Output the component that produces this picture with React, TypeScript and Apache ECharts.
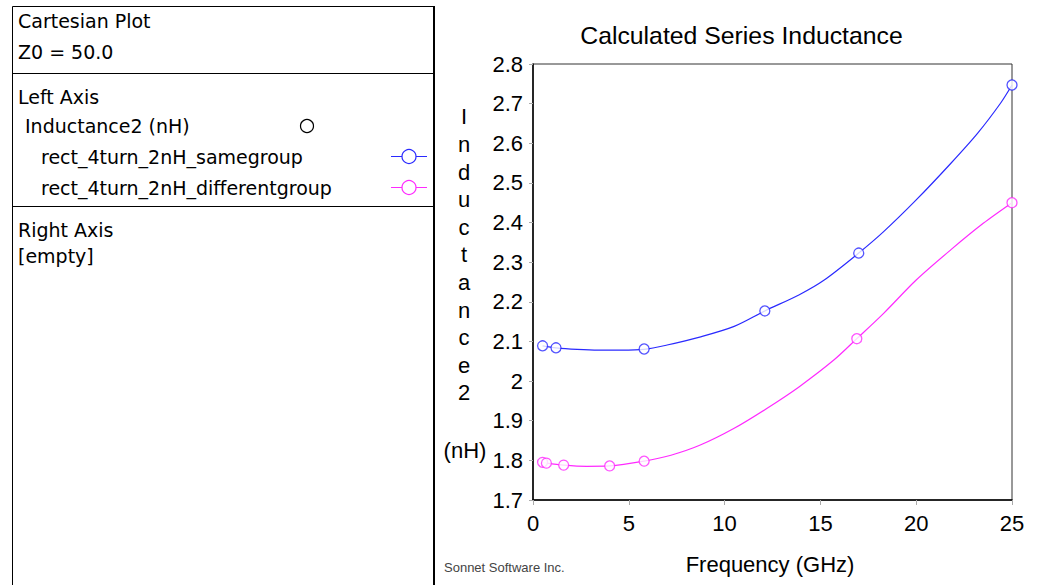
import React, { useEffect, useRef } from "react";
import * as echarts from "echarts";

// ---- data ----
const xTicks = [0, 5, 10, 15, 20, 25];
const yTicks = [1.7, 1.8, 1.9, 2.0, 2.1, 2.2, 2.3, 2.4, 2.5, 2.6, 2.7, 2.8];

const seriesNames = ["rect_4turn_2nH_samegroup", "rect_4turn_2nH_differentgroup"];

// samegroup (blue) curve
const blueCurveFreq = [0.5, 1.2, 2.3, 3.4, 4.6, 5.8, 7.0, 8.7, 10.5, 12.1, 13.9, 15.2, 17.0, 18.3, 20.0, 21.8, 23.2, 24.4, 25.0];
const blueCurveVal = [2.089, 2.084, 2.080, 2.078, 2.078, 2.080, 2.091, 2.111, 2.138, 2.177, 2.218, 2.255, 2.323, 2.377, 2.457, 2.549, 2.625, 2.701, 2.747];
// samegroup (blue) analysed points
const blueMarkFreq = [0.5, 1.2, 5.8, 12.1, 17.0, 25.0];
const blueMarkVal = [2.089, 2.084, 2.081, 2.177, 2.323, 2.747];

// differentgroup (magenta) curve
const pinkCurveFreq = [0.5, 0.7, 1.6, 2.8, 4.0, 5.8, 7.2, 8.7, 10.5, 12.2, 13.9, 15.7, 16.9, 18.3, 20.0, 21.8, 23.5, 25.0];
const pinkCurveVal = [1.795, 1.793, 1.788, 1.785, 1.786, 1.798, 1.813, 1.838, 1.881, 1.931, 1.986, 2.053, 2.107, 2.171, 2.255, 2.331, 2.398, 2.450];
// differentgroup (magenta) analysed points
const pinkMarkFreq = [0.5, 0.7, 1.6, 4.0, 5.8, 16.9, 25.0];
const pinkMarkVal = [1.795, 1.793, 1.788, 1.786, 1.798, 2.107, 2.450];

const BLUE = "#2a2aff";
const PINK = "#ff2aff";
const PANEL_FONT = "DejaVu Sans";
const AX_FONT = "Liberation Sans";

const zip = (a: number[], b: number[]) => a.map((v, i) => [v, b[i]]);

export default function App() {
  const ref = useRef<HTMLDivElement>(null);

  useEffect(() => {
    if (!ref.current) return;
    const chart = echarts.init(ref.current, undefined, { renderer: "svg" });

    const panelText = (text: string, x: number, y: number, extra: any = {}) => ({
      type: "text",
      x,
      y,
      style: {
        text,
        fontFamily: PANEL_FONT,
        fontSize: 19,
        fill: "#000",
        align: "left",
        verticalAlign: "middle",
        ...extra,
      },
    });
    const hline = (y: number) => ({
      type: "line",
      shape: { x1: 12.5, y1: y, x2: 434, y2: y },
      style: { stroke: "#000", lineWidth: 1 },
    });
    const legendMark = (y: number, color: string) => [
      {
        type: "line",
        shape: { x1: 391, y1: y, x2: 427, y2: y },
        style: { stroke: color, lineWidth: 1 },
      },
      {
        type: "circle",
        shape: { cx: 409, cy: y, r: 7 },
        style: { fill: "#fff", stroke: color, lineWidth: 1.2 },
      },
    ];

    const graphics: any[] = [
      // left panel frame
      { type: "line", shape: { x1: 12.5, y1: 6.5, x2: 12.5, y2: 585 }, style: { stroke: "#000", lineWidth: 1 } },
      hline(6.5),
      hline(73.5),
      hline(206.5),
      { type: "line", shape: { x1: 434, y1: 6, x2: 434, y2: 585 }, style: { stroke: "#000", lineWidth: 2 } },
      panelText("Cartesian Plot", 18, 21),
      panelText("Z0 = 50.0", 18, 51.5),
      panelText("Left Axis", 18, 97),
      panelText("Inductance2 (nH)", 25, 126),
      {
        type: "circle",
        shape: { cx: 307, cy: 126, r: 6.5 },
        style: { fill: "#fff", stroke: "#000", lineWidth: 1.2 },
      },
      panelText(seriesNames[0], 41, 156.5),
      ...legendMark(156.5, BLUE),
      panelText(seriesNames[1], 41, 187.5),
      ...legendMark(187.5, PINK),
      panelText("Right Axis", 18, 230),
      panelText("[empty]", 18, 255.5),
      // chart title
      {
        type: "text",
        x: 741.5,
        y: 35,
        style: {
          text: "Calculated Series Inductance",
          fontFamily: AX_FONT,
          fontSize: 24.8,
          fill: "#000",
          align: "center",
          verticalAlign: "middle",
        },
      },
      // vertical y-axis name
      {
        type: "text",
        x: 464,
        y: 103,
        style: {
          text: "I\nn\nd\nu\nc\nt\na\nn\nc\ne\n2",
          fontFamily: AX_FONT,
          fontSize: 22,
          lineHeight: 27.6,
          fill: "#000",
          align: "center",
          verticalAlign: "top",
        },
      },
      {
        type: "text",
        x: 465,
        y: 450,
        style: {
          text: "(nH)",
          fontFamily: AX_FONT,
          fontSize: 22,
          fill: "#000",
          align: "center",
          verticalAlign: "middle",
        },
      },
      // x-axis name
      {
        type: "text",
        x: 770,
        y: 564,
        style: {
          text: "Frequency (GHz)",
          fontFamily: AX_FONT,
          fontSize: 22,
          fill: "#000",
          align: "center",
          verticalAlign: "middle",
        },
      },
      // credit
      {
        type: "text",
        x: 444,
        y: 567,
        style: {
          text: "Sonnet Software Inc.",
          fontFamily: AX_FONT,
          fontSize: 13,
          fill: "#444",
          align: "left",
          verticalAlign: "middle",
        },
      },
    ];

    chart.setOption({
      animation: false,
      backgroundColor: "#fff",
      grid: {
        left: 533,
        top: 64,
        width: 479,
        height: 436,
        show: true,
        borderColor: "#333",
        borderWidth: 1,
        backgroundColor: "transparent",
      },
      xAxis: {
        type: "value",
        min: xTicks[0],
        max: xTicks[xTicks.length - 1],
        interval: 5,
        axisLine: { show: true, lineStyle: { color: "#000", width: 1.5 } },
        axisTick: { show: true, length: 5, lineStyle: { color: "#aaa" } },
        splitLine: { show: false },
        axisLabel: {
          color: "#000",
          fontSize: 22,
          fontFamily: AX_FONT,
          margin: 12,
          formatter: (v: number) => String(Math.round(v)),
        },
      },
      yAxis: {
        type: "value",
        min: yTicks[0],
        max: yTicks[yTicks.length - 1],
        interval: 0.1,
        axisLine: { show: true, lineStyle: { color: "#000", width: 1.5 } },
        axisTick: { show: true, length: 4, lineStyle: { color: "#aaa" } },
        splitLine: { show: false },
        axisLabel: {
          color: "#000",
          fontSize: 22,
          fontFamily: AX_FONT,
          margin: 10,
          formatter: (v: number) => String(parseFloat(v.toFixed(1))),
        },
      },
      series: [
        {
          name: seriesNames[0],
          type: "line",
          data: zip(blueCurveFreq, blueCurveVal),
          showSymbol: false,
          smooth: 0.3,
          lineStyle: { color: BLUE, width: 1.2 },
          z: 2,
        },
        {
          name: seriesNames[1],
          type: "line",
          data: zip(pinkCurveFreq, pinkCurveVal),
          showSymbol: false,
          smooth: 0.3,
          lineStyle: { color: PINK, width: 1.2 },
          z: 2,
        },
        {
          name: seriesNames[0] + " points",
          type: "scatter",
          data: zip(blueMarkFreq, blueMarkVal),
          symbol: "circle",
          symbolSize: 10,
          itemStyle: { color: "#fff", borderColor: BLUE, borderWidth: 1.3 },
          z: 3,
        },
        {
          name: seriesNames[1] + " points",
          type: "scatter",
          data: zip(pinkMarkFreq, pinkMarkVal),
          symbol: "circle",
          symbolSize: 10,
          itemStyle: { color: "#fff", borderColor: PINK, borderWidth: 1.3 },
          z: 3,
        },
      ],
      graphic: { elements: graphics },
    });

    return () => chart.dispose();
  }, []);

  return (
    <div
      ref={ref}
      style={{ position: "fixed", left: 0, top: 0, width: 1037, height: 585, background: "#fff" }}
    />
  );
}
